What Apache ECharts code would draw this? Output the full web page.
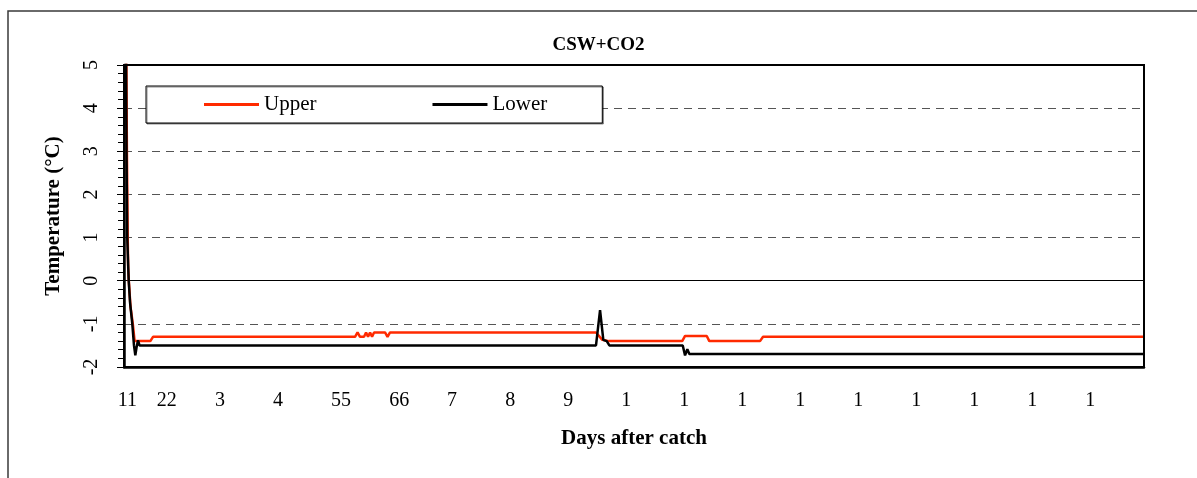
<!DOCTYPE html>
<html><head><meta charset="utf-8">
<script src="https://cdn.jsdelivr.net/npm/echarts@6/dist/echarts.min.js"></script>
<style>html,body{margin:0;padding:0;background:#fff}#c{width:1197px;height:478px}</style>
</head><body><div id="c"></div>
<script>
// x axis: position of each tick label (days) and its text
const tickPositions = [1.402, 2.081, 3, 4, 5.086, 6.090, 7, 8, 9, 10, 11, 12, 13, 14, 15, 16, 17, 18];
const tickLabels = ['11', '22', '3', '4', '55', '66', '7', '8', '9', '1', '1', '1', '1', '1', '1', '1', '1', '1'];
const xMin = 1.345, xMax = 18.925;

// Upper sensor: [day, temperature °C]
const upper = [
  [1.382, 6.0], [1.395, 3.0], [1.409, 1.0], [1.417, 0.3], [1.428, 0.0], [1.457, -0.6],
  [1.497, -1.0], [1.528, -1.4], [1.799, -1.4], [1.845, -1.3], [5.327, -1.3],
  [5.370, -1.2], [5.413, -1.3], [5.482, -1.3], [5.517, -1.2], [5.551, -1.3],
  [5.586, -1.2], [5.620, -1.3], [5.655, -1.2], [5.844, -1.2], [5.887, -1.3],
  [5.930, -1.2], [9.480, -1.2], [9.589, -1.37], [9.700, -1.4], [10.966, -1.4],
  [11.015, -1.28], [11.389, -1.28], [11.433, -1.4], [12.307, -1.4], [12.359, -1.3],
  [18.925, -1.3]
];
// Lower sensor: [day, temperature °C]
const lower = [
  [1.378, 6.0], [1.388, 3.0], [1.401, 1.0], [1.426, 0.0], [1.449, -0.5], [1.488, -1.0],
  [1.517, -1.5], [1.540, -1.73], [1.561, -1.55], [1.587, -1.38], [1.612, -1.5],
  [9.480, -1.5], [9.550, -0.68], [9.606, -1.37], [9.665, -1.4], [9.710, -1.5],
  [10.975, -1.5], [11.015, -1.73], [11.054, -1.59], [11.089, -1.7], [18.925, -1.7]
];

const FONT = 'Liberation Serif';
const chart = echarts.init(document.getElementById('c'), null, {renderer: 'canvas'});
chart.setOption({
  animation: false,
  backgroundColor: '#fff',
  graphic: [{
    type: 'rect', silent: true, z: -10,
    shape: {x: 8, y: 11, width: 1400, height: 700},
    style: {fill: 'none', stroke: '#3a3a3a', lineWidth: 1.5}
  }, {
    type: 'rect', silent: true, z: 100,
    shape: {x: 124, y: 65, width: 1020, height: 302},
    style: {fill: 'none', stroke: '#000', lineWidth: 2}
  }],
  title: {
    text: 'CSW+CO2', left: 'center', top: 31,
    textStyle: {fontFamily: FONT, fontWeight: 'bold', fontSize: 19, color: '#000'}
  },
  legend: {
    left: 146, top: 86,
    padding: [8, 55, 8, 58],
    icon: 'rect',
    itemWidth: 55, itemHeight: 3, itemGap: 116,
    borderColor: '#000', borderWidth: 1,
    shadowColor: 'rgba(0,0,0,0.45)', shadowOffsetX: 1, shadowOffsetY: 1, shadowBlur: 0,
    backgroundColor: '#fff',
    textStyle: {fontFamily: FONT, fontSize: 21, color: '#000'},
    data: ['Upper', 'Lower']
  },
  grid: {
    left: 124, top: 65, right: 53, bottom: 111,
    show: false
  },
  xAxis: {
    type: 'value', min: xMin, max: xMax,
    name: 'Days after catch', nameLocation: 'middle', nameGap: 61,
    nameTextStyle: {fontFamily: FONT, fontWeight: 'bold', fontSize: 21, color: '#000'},
    axisLine: {show: true, onZero: false, lineStyle: {color: '#000', width: 2.5}},
    axisTick: {show: false},
    splitLine: {show: false},
    axisLabel: {
      customValues: tickPositions,
      margin: 24,
      fontFamily: FONT, fontSize: 20, color: '#000',
      formatter: function (v) {
        let best = 0, bd = Infinity;
        tickPositions.forEach((p, i) => { const d = Math.abs(p - v); if (d < bd) { bd = d; best = i; } });
        return tickLabels[best];
      }
    }
  },
  yAxis: {
    type: 'value', min: -2, max: 5, interval: 1,
    name: 'Temperature (°C)', nameLocation: 'middle', nameGap: 60, nameRotate: 90,
    nameTextStyle: {fontFamily: FONT, fontWeight: 'bold', fontSize: 21, color: '#000'},
    axisLine: {show: true, onZero: false, lineStyle: {color: '#000', width: 2.5}},
    axisTick: {show: true, inside: false, length: 7, lineStyle: {color: '#000', width: 1}},
    minorTick: {show: true, splitNumber: 5, length: 6, lineStyle: {color: '#000', width: 1}},
    splitLine: {show: true, lineStyle: {color: '#555', width: 1, type: [8, 6]}},
    axisLabel: {
      rotate: 90, margin: 22,
      fontFamily: FONT, fontSize: 20, color: '#000'
    }
  },
  series: [
    {
      name: 'Upper', type: 'line', data: upper, symbol: 'none', clip: true,
      lineStyle: {color: '#ff2a00', width: 2.5}, itemStyle: {color: '#ff2a00'}, z: 3
    },
    {
      name: 'Lower', type: 'line', data: lower, symbol: 'none', clip: true,
      lineStyle: {color: '#000', width: 2.5}, itemStyle: {color: '#000'}, z: 4,
      markLine: {
        silent: true, symbol: 'none', label: {show: false}, z: 1,
        lineStyle: {color: '#000', width: 1, type: 'solid'},
        data: [{yAxis: 0}]
      }
    }
  ]
});
</script>
</body></html>
